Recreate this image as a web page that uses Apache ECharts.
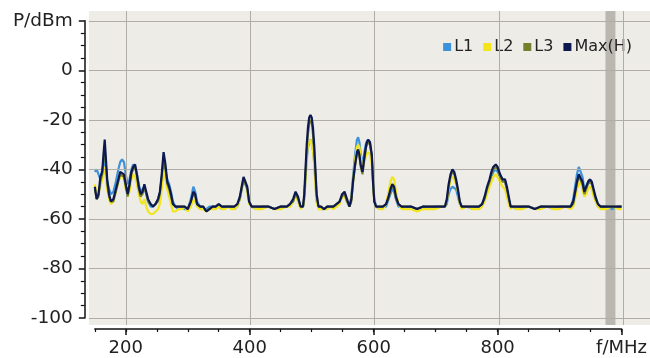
<!DOCTYPE html>
<html>
<head>
<meta charset="utf-8">
<script src="https://cdn.jsdelivr.net/npm/echarts@6/dist/echarts.min.js"></script>
<style>
html, body { margin: 0; padding: 0; background: #fff; }
#chart-container { width: 650px; height: 358px; }
</style>
</head>
<body>
<div id="chart-container"></div>
<script>
// spectrum values (MHz / dBm)
var freqs = [150,153,156,159,162,164,166,168,170,173,176,180,184,188,191,194,197,200,203,206,209,212,215,218,221,224,227,230,233,236,240,244,248,252,255,258,261,264,267,270,273,276,280,285,290,295,300,305,309,312,315,320,325,330,335,340,345,350,355,360,365,370,375,380,384,387,390,393,396,399,403,410,420,430,440,450,460,465,470,474,478,482,486,488,490,492,494,496,498,500,502,504,506,508,511,515,520,525,530,535,540,545,549,553,557,561,564,567,570,573,575,577,579,582,585,588,591,594,597,599,601,604,610,615,620,624,627,630,633,636,640,645,650,660,670,680,690,700,710,715,718,721,724,727,730,733,736,739,742,750,760,770,775,779,783,787,790,793,797,800,804,808,812,815,818,821,825,830,840,850,860,870,880,890,900,910,918,922,925,928,931,934,937,940,943,946,949,952,955,958,962,966,975,985,995,1000];
var maxH = [-47,-52,-50,-43,-41,-34,-28,-36,-44,-50,-53,-52,-48,-44,-41,-41,-42,-46,-50,-46,-41,-39,-38,-42,-47,-50,-49,-46,-49,-52,-54,-55,-54,-52,-49,-42,-33,-38,-45,-47,-50,-54,-55,-55,-55,-55,-56,-53,-49,-50,-54,-55,-55,-57,-56,-55,-55,-54,-55,-55,-55,-55,-55,-54,-51,-47,-43,-43,-47,-53,-55,-55,-55,-55,-56,-55,-55,-54,-52,-49,-51,-55,-55,-50,-40,-30,-23,-19,-18,-19,-23,-30,-40,-50,-55,-55,-56,-55,-55,-55,-54,-53,-50,-49,-52,-55,-52,-44,-38,-33,-32,-34,-38,-41,-35,-30,-28,-29,-34,-45,-53,-55,-55,-55,-54,-51,-48,-46,-47,-51,-54,-55,-55,-55,-56,-55,-55,-55,-55,-55,-52,-46,-42,-40,-41,-44,-48,-53,-55,-55,-55,-55,-54,-51,-47,-44,-41,-39,-38,-39,-42,-44,-44,-47,-51,-55,-55,-55,-55,-55,-56,-55,-55,-55,-55,-55,-55,-53,-49,-45,-42,-42,-45,-49,-47,-45,-44,-45,-48,-51,-54,-55,-55,-55,-55,-55];
var l1 = [-41,-40,-42,-44,-40,-38,-36,-40,-45,-48,-50,-49,-45,-40,-37,-36,-37,-42,-46,-44,-40,-38,-39,-42,-46,-49,-48,-47,-50,-53,-55,-55,-54,-52,-50,-44,-38,-41,-44,-46,-49,-53,-55,-56,-55,-56,-56,-52,-47,-49,-53,-55,-56,-56,-55,-55,-55,-55,-56,-55,-55,-55,-56,-55,-52,-48,-44,-44,-48,-53,-55,-56,-55,-55,-56,-55,-55,-54,-53,-50,-52,-55,-55,-52,-44,-36,-31,-29,-28,-29,-32,-37,-45,-53,-55,-56,-56,-55,-55,-55,-55,-53,-51,-50,-53,-55,-51,-42,-34,-28,-27,-29,-34,-38,-33,-29,-28,-29,-35,-44,-52,-55,-56,-55,-55,-52,-50,-48,-49,-52,-55,-55,-56,-55,-56,-55,-56,-55,-55,-55,-54,-50,-48,-47,-47,-48,-51,-54,-55,-55,-56,-55,-54,-52,-49,-45,-43,-41,-40,-41,-43,-44,-45,-48,-52,-55,-55,-56,-55,-55,-56,-55,-55,-56,-55,-55,-55,-52,-47,-42,-39,-39,-43,-48,-47,-45,-44,-46,-49,-52,-55,-55,-55,-56,-55,-55];
var l2 = [-46,-50,-49,-47,-44,-41,-39,-44,-48,-52,-54,-53,-49,-45,-43,-42,-44,-48,-51,-49,-44,-42,-43,-46,-50,-53,-54,-52,-55,-57,-58,-58,-57,-56,-54,-48,-40,-44,-48,-51,-54,-57,-57,-56,-56,-55,-57,-55,-52,-53,-55,-56,-56,-57,-56,-56,-56,-55,-56,-56,-55,-56,-56,-55,-52,-47,-44,-45,-49,-54,-55,-56,-56,-55,-56,-56,-55,-55,-53,-50,-53,-56,-55,-52,-44,-35,-30,-29,-28,-30,-32,-38,-46,-53,-56,-56,-56,-56,-55,-56,-55,-54,-51,-51,-53,-55,-52,-44,-36,-31,-30,-31,-35,-39,-37,-34,-33,-34,-38,-46,-53,-55,-56,-56,-54,-49,-45,-43,-44,-49,-54,-56,-56,-56,-57,-56,-56,-56,-55,-55,-53,-48,-44,-43,-44,-46,-49,-54,-56,-55,-56,-56,-55,-53,-50,-47,-45,-43,-42,-42,-45,-47,-48,-51,-54,-56,-55,-56,-56,-55,-56,-56,-55,-56,-56,-55,-56,-55,-52,-48,-46,-45,-48,-51,-50,-48,-47,-48,-51,-53,-55,-56,-56,-55,-56,-56];
var l3 = [-48,-52,-51,-45,-42,-36,-31,-38,-46,-51,-53,-53,-49,-45,-42,-42,-43,-47,-51,-47,-42,-40,-39,-43,-48,-51,-50,-47,-50,-53,-54,-55,-54,-53,-50,-43,-35,-40,-46,-48,-51,-54,-55,-55,-55,-55,-56,-53,-50,-51,-54,-55,-55,-57,-56,-55,-55,-54,-55,-55,-55,-55,-55,-54,-52,-48,-44,-44,-48,-53,-55,-55,-55,-55,-56,-55,-55,-54,-53,-50,-52,-55,-55,-51,-42,-32,-26,-22,-20,-21,-26,-33,-42,-51,-55,-55,-56,-55,-55,-55,-54,-53,-51,-50,-53,-55,-53,-45,-39,-34,-33,-35,-39,-42,-36,-31,-29,-30,-35,-46,-53,-55,-55,-55,-54,-52,-49,-47,-48,-52,-54,-55,-55,-55,-56,-55,-55,-55,-55,-55,-53,-47,-43,-41,-42,-45,-49,-53,-55,-55,-55,-55,-54,-52,-48,-45,-42,-40,-39,-40,-43,-45,-45,-48,-52,-55,-55,-55,-55,-55,-56,-55,-55,-55,-55,-55,-55,-54,-50,-46,-43,-43,-46,-50,-48,-46,-45,-46,-49,-52,-54,-55,-55,-55,-55,-55];

var xLabels = [200, 400, 600, 800, 1000];
var yLevels = [20, 0, -20, -40, -60, -80, -100];
var hold = [971, 987]; // grey band near the right edge

// layout (px)
var W = 650, H = 358;
var plot = { left: 94.8, right: 26.5, top: 20.8, bottom: 40 };
var back = { left: 89, right: 0, top: 11, bottom: 33 };
var pxX = (W - plot.left - plot.right) / (1000 - 150);
var pxY = (H - plot.top - plot.bottom) / 120;

function pairs(vals) {
    return freqs.map(function (f, i) { return [f, vals[i]]; });
}

var font = 'DejaVu Sans';
var dom = document.getElementById('chart-container');
var myChart = echarts.init(dom, null, { renderer: 'canvas' });

var option = {
    animation: false,
    backgroundColor: '#fff',
    textStyle: { fontFamily: font },
    legend: {
        data: ['L1', 'L2', 'L3', 'Max(H)'],
        right: 13,
        top: 34,
        icon: 'rect',
        itemWidth: 8,
        itemHeight: 8,
        itemGap: 10,
        textStyle: { fontSize: 16, color: '#222', fontFamily: font, padding: [0, 0, 0, -2] }
    },
    grid: [
        { left: plot.left, right: plot.right, top: plot.top, bottom: plot.bottom },
        { left: back.left, right: back.right, top: back.top, bottom: back.bottom,
          show: true, backgroundColor: '#eeece7', borderWidth: 0, z: 0 }
    ],
    xAxis: [
        { // minor ticks every 50 MHz + axis line
            gridIndex: 0, type: 'value', min: 150, max: 1000, interval: 50,
            position: 'bottom', offset: 11,
            axisLine: { onZero: false, lineStyle: { color: '#111', width: 1.5 } },
            axisTick: { length: 3, lineStyle: { color: '#111', width: 1.2 } },
            axisLabel: { show: false },
            splitLine: { show: false }
        },
        { // major ticks + labels
            gridIndex: 0, type: 'value', min: 150, max: 1000,
            position: 'bottom', offset: 11,
            axisLine: { show: false, onZero: false },
            axisTick: { customValues: xLabels, length: 6, lineStyle: { color: '#111', width: 1.5 } },
            axisLabel: {
                customValues: xLabels, fontSize: 18, color: '#222', margin: 10, fontFamily: font,
                formatter: function (v) { return v === 1000 ? 'f/MHz' : String(v); }
            },
            splitLine: { show: false }
        },
        { // background grid
            gridIndex: 1, type: 'value',
            min: 150 - (plot.left - back.left) / pxX,
            max: 1000 + (plot.right - back.right) / pxX,
            show: false
        }
    ],
    yAxis: [
        {
            gridIndex: 0, type: 'value', min: -100, max: 20, interval: 20,
            position: 'left', offset: 10,
            axisLine: { show: true, onZero: false, lineStyle: { color: '#111', width: 1.5 } },
            axisTick: { show: true, length: 6, lineStyle: { color: '#111', width: 1.5 } },
            minorTick: { show: true, splitNumber: 4, length: 4, lineStyle: { color: '#111', width: 1.2 } },
            axisLabel: {
                fontSize: 18.5, color: '#222', margin: 12, fontFamily: font,
                formatter: function (v) { return v === 20 ? 'P/dBm' : String(v); }
            },
            splitLine: { show: false }
        },
        {
            gridIndex: 1, type: 'value',
            min: -100 - (plot.bottom - back.bottom) / pxY,
            max: 20 + (plot.top - back.top) / pxY,
            show: false
        }
    ],
    series: [
        {
            name: 'grid', type: 'line', xAxisIndex: 2, yAxisIndex: 1, data: [], silent: true, z: 1,
            markLine: {
                silent: true, symbol: 'none', animation: false,
                label: { show: false },
                lineStyle: { color: '#b0ada7', width: 1, type: 'solid' },
                data: xLabels.map(function (v) { return { xAxis: v }; })
                    .concat(yLevels.map(function (v) { return { yAxis: v }; }))
            }
        },
        {
            name: 'hold', type: 'line', xAxisIndex: 2, yAxisIndex: 1, data: [], silent: true, z: 2,
            markArea: {
                silent: true,
                itemStyle: { color: '#bab7b1' },
                data: [[{ xAxis: hold[0] }, { xAxis: hold[1] }]]
            }
        },
        { name: 'L1', type: 'line', data: pairs(l1), showSymbol: false, z: 3,
          color: '#3d92dc', lineStyle: { width: 2.2 } },
        { name: 'L2', type: 'line', data: pairs(l2), showSymbol: false, z: 4,
          color: '#f2e51c', lineStyle: { width: 2.2 } },
        { name: 'L3', type: 'line', data: pairs(l3), showSymbol: false, z: 5,
          color: '#74802c', lineStyle: { width: 2 } },
        { name: 'Max(H)', type: 'line', data: pairs(maxH), showSymbol: false, z: 6,
          color: '#0e1850', lineStyle: { width: 2.2 } }
    ]
};

if (option && typeof option === 'object') {
    myChart.setOption(option);
}
window.addEventListener('resize', myChart.resize);
</script>
</body>
</html>
